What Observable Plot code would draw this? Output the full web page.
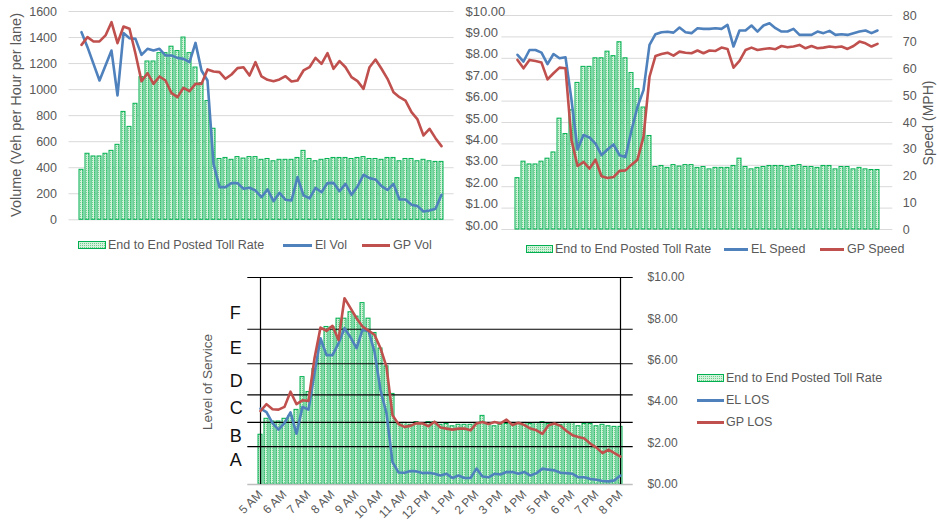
<!DOCTYPE html>
<html>
<head>
<meta charset="utf-8">
<script src="https://cdn.jsdelivr.net/npm/d3@7"></script>
<script src="https://cdn.jsdelivr.net/npm/@observablehq/plot@0.6"></script>
<style>
  body { margin: 0; background: #fff; }
  #root { position: relative; width: 937px; height: 527px; overflow: hidden;
          font-family: "Liberation Sans", Arial, sans-serif; color: #595959; }
  #root > svg.layer { position: absolute; left: 0; top: 0; }
  .lbl { position: absolute; white-space: nowrap; font-size: 12.5px; color: #595959; line-height: 1; transform: translateY(-50%); }
  .rot { position: absolute; white-space: nowrap; color: #595959; line-height: 1; transform: translate(-50%, -50%) rotate(-90deg); }
  .sw { position: absolute; }
</style>
</head>
<body>
<svg width="0" height="0" style="position:absolute">
  <defs>
    <pattern id="tollPat" width="2" height="2" patternUnits="userSpaceOnUse">
      <rect width="2" height="2" fill="#d4f1dc"/>
      <rect width="1" height="1" fill="#6fcf8c"/>
    </pattern>
  </defs>
</svg>
<div id="root"></div>
<script>
// ---------- data ----------
const hourLabels = ["5 AM","6 AM","7 AM","8 AM","9 AM","10 AM","11 AM","12 PM","1 PM","2 PM","3 PM","4 PM","5 PM","6 PM","7 PM","8 PM"];
// 15-minute intervals from 5:00 to 20:00
const times = d3.range(61).map(i => { const m = 300 + 15 * i; return `${Math.floor(m / 60)}:${String(m % 60).padStart(2, "0")}`; });

const toll = [2.40, 3.17, 3.04, 3.04, 3.17, 3.31, 3.60, 5.18, 4.46, 5.57, 6.85, 7.60, 7.60, 8.00, 8.00, 8.31, 8.10, 8.75, 8.00, 7.31, 6.56, 5.70, 4.37,
  2.92, 2.97, 2.88, 3.01, 2.94, 3.01, 3.01, 2.88, 2.92, 2.81, 2.88, 2.88, 2.88, 2.97, 3.31, 2.92, 2.81, 2.88, 2.92, 2.97,
  2.97, 2.97, 2.92, 2.97, 3.01, 2.92, 2.92, 2.88, 2.97, 2.97, 2.81, 2.92, 2.92, 2.81, 2.88, 2.81, 2.78, 2.78];

const elVol = [1441, 1326, 1198, 1070, 1185, 1300, 955, 1434, 1395, 1390, 1267, 1313, 1300, 1313, 1262, 1262, 1244, 1236, 1211, 1359,
  1147, 1070, 430, 251, 251, 282, 282, 238, 246, 225, 174, 233, 143, 207, 154, 148, 328, 187, 164, 246,
  212, 282, 284, 220, 276, 192, 256, 346, 320, 310, 259, 230, 276, 156, 156, 115, 105, 64, 72, 84, 192];
const gpVol = [1344, 1403, 1370, 1370, 1416, 1518, 1357, 1485, 1467, 1275, 1065, 1126, 1044, 1101, 1070, 973, 942, 1014, 988, 1044,
  1044, 1155, 1139, 1134, 1083, 1116, 1165, 1172, 1108, 1211, 1101, 1075, 1065, 1078, 1103, 1062, 1070, 1147, 1172, 1244,
  1198, 1280, 1160, 1219, 1172, 1096, 1065, 1006, 1172, 1231, 1160, 1083, 980, 942, 916, 827, 771, 648, 699, 627, 566];

const elSpeed = [65.3, 62.8, 67.1, 67.1, 66.1, 61.8, 65.6, 64.0, 64.4, 48.4, 29.9, 35.3, 34.4, 32.1, 27.8, 29.9, 31.8, 27.8, 27.1, 37.1,
  45.9, 52.1, 69.0, 73.0, 73.75, 73.9, 73.6, 75.5, 73.75, 73.4, 75.25, 75.0, 75.0, 75.25, 75.0, 76.5, 68.4, 74.4, 74.4, 76.25,
  74.0, 76.25, 77.1, 75.25, 74.0, 74.0, 75.0, 72.75, 72.75, 72.75, 74.0, 73.4, 74.25, 72.75, 73.0, 72.75, 73.4, 74.0, 74.4, 73.4, 74.4];
const gpSpeed = [63.4, 60.25, 63.4, 63.0, 62.4, 56.1, 58.4, 60.5, 60.25, 33.4, 23.75, 25.25, 22.75, 26.1, 19.9, 19.25, 19.6, 21.9, 22.1, 24.25,
  26.1, 34.6, 57.1, 64.9, 65.6, 66.1, 65.0, 66.5, 66.1, 65.9, 66.9, 65.9, 66.9, 66.75, 68.0, 67.5, 60.5, 63.0, 67.1, 68.0,
  67.1, 67.5, 67.75, 67.4, 68.6, 68.1, 68.4, 69.0, 67.75, 68.6, 67.75, 68.0, 68.4, 68.1, 68.4, 67.5, 68.6, 70.25, 69.6, 68.4, 69.4];

const elLos = [22, 21, 17.8, 15.9, 17.8, 20.9, 14.7, 22.5, 21.7, 32.2, 42.4, 37.5, 37.5, 40.9, 45.3, 42.7, 39.5, 44.8, 44.5, 38.5,
  27.4, 20.6, 6.5, 3.5, 3.4, 3.9, 3.8, 3.3, 3.4, 3.1, 2.6, 3.1, 1.9, 2.6, 1.9, 1.9, 4.6, 2.3, 2.1, 3.1,
  2.9, 3.6, 3.6, 3.1, 3.6, 2.6, 3.3, 4.6, 4.3, 4.1, 3.4, 3.3, 3.1, 2.1, 2.1, 1.6, 1.4, 1.0, 0.9, 1.2, 2.6];
const gpLos = [21.3, 23.3, 21.8, 21.7, 22.5, 26.9, 23.3, 24.4, 24.2, 36.6, 45.5, 44.5, 46.0, 41.9, 54.0, 51.1, 48.2, 45.8, 44.6, 43.4,
  39.5, 34.1, 20.1, 17.5, 16.7, 17.0, 17.8, 17.7, 16.9, 18.2, 16.5, 16.2, 15.9, 16.2, 16.2, 15.7, 17.7, 18.1, 17.5, 18.1,
  17.7, 18.8, 17.2, 17.9, 17.2, 16.2, 15.7, 14.7, 17.2, 17.7, 17.0, 15.5, 14.3, 13.8, 13.3, 11.8, 10.7, 9.1, 10.1, 9.1, 8.1];

// LOS band limits (density) and band letters
const losBounds = [11, 18, 26, 35, 45, 60];
const losLetters = ["A", "B", "C", "D", "E", "F"];
const losLetterPos = [7, 14, 22, 30, 39.5, 49.5];

const volTicks = [0, 200, 400, 600, 800, 1000, 1200, 1400, 1600];
const dollarTicksTop = [0, 1, 2, 3, 4, 5, 6, 7, 8, 9, 10];
const speedTicks = [0, 10, 20, 30, 40, 50, 60, 70, 80];
const dollarTicksBottom = [0, 2, 4, 6, 8, 10];
const hourTicks = times.filter((t, i) => i % 4 === 0);

// ---------- helpers ----------
const rows = times.map((t, i) => ({t, toll: toll[i], elVol: elVol[i], gpVol: gpVol[i],
  elSpeed: elSpeed[i], gpSpeed: gpSpeed[i], elLos: elLos[i], gpLos: gpLos[i]}));
const letters = losLetters.map((letter, i) => ({letter, pos: losLetterPos[i]}));

const root = document.getElementById("root");
const W = 937, H = 527;
const FONT = '"Liberation Sans", Arial, sans-serif';
const BLUE = "#4f81bd", RED = "#c0504d", GREEN = "#00b050";
function layer(opts) {
  const svg = Plot.plot({width: W, height: H,
    style: {background: "transparent", fontFamily: FONT, fontSize: "12px", color: "#595959", overflow: "visible"},
    ...opts});
  svg.classList.add("layer");
  root.append(svg);
}
const money = d => "$" + d.toFixed(2);
const bars = () => Plot.barY(rows, {x: "t", y: "toll", fill: "url(#tollPat)", stroke: GREEN, strokeWidth: 1});
const xBand = {type: "band", domain: times, padding: 0.35, axis: null, label: null};

// ---------- top-left: volume ----------
const TL = {marginLeft: 68.5, marginRight: W - 453.6, marginTop: 11, marginBottom: H - 219.3};
layer({...TL, x: xBand, y: {domain: [0, 1600], axis: null, label: null},
  marks: [
    Plot.gridY(volTicks, {stroke: "#d9d9d9", strokeOpacity: 1}),
    Plot.axisY(volTicks, {anchor: "left", label: null, tickSize: 0, tickPadding: 12, fontSize: 12.5, tickFormat: d => String(d)})
  ]});
layer({...TL, x: xBand, y: {domain: [0, 10], axis: null, label: null},
  marks: [bars()]});
layer({...TL, x: xBand, y: {domain: [0, 1600], axis: null, label: null},
  marks: [
    Plot.line(rows, {x: "t", y: "elVol", stroke: BLUE, strokeWidth: 2.6}),
    Plot.line(rows, {x: "t", y: "gpVol", stroke: RED, strokeWidth: 2.6})
  ]});

// ---------- top-right: speed ----------
const TR = {marginLeft: 501.4, marginRight: W - 892.3, marginTop: 15, marginBottom: H - 229};
layer({...TR, x: xBand, y: {domain: [0, 10], axis: null, label: null},
  marks: [
    Plot.gridY(dollarTicksTop, {stroke: "#d9d9d9", strokeOpacity: 1}),
    Plot.axisY(dollarTicksTop, {anchor: "left", label: null, tickSize: 0, tickPadding: 0, textAnchor: "start", dx: -36.4, dy: -4, fontSize: 13, tickFormat: money}),
    bars()
  ]});
layer({...TR, x: xBand, y: {domain: [0, 80], axis: null, label: null},
  marks: [
    Plot.axisY(speedTicks, {anchor: "right", label: null, tickSize: 0, tickPadding: 10, fontSize: 12.5, tickFormat: d => String(d)}),
    Plot.line(rows, {x: "t", y: "elSpeed", stroke: BLUE, strokeWidth: 2.6}),
    Plot.line(rows, {x: "t", y: "gpSpeed", stroke: RED, strokeWidth: 2.6})
  ]});

// ---------- bottom: LOS ----------
layer({marginLeft: 243, marginRight: W - 637.1, marginTop: 276.7, marginBottom: H - 484,
  x: xBand, y: {domain: [0, 10], axis: null, label: null},
  marks: [
    bars(),
    Plot.axisY(dollarTicksBottom, {anchor: "right", label: null, tickSize: 0, tickPadding: 10, fontSize: 12, tickFormat: money}),
    Plot.axisX(hourTicks, {anchor: "bottom", label: null, tickSize: 0, tickRotate: -45, tickPadding: 8, fontSize: 12,
      tickFormat: t => hourLabels[times.indexOf(t) / 4]})
  ]});
layer({marginLeft: 247.3, marginRight: W - 632.7, marginTop: 277, marginBottom: H - 484,
  x: {type: "point", domain: times, padding: 0, axis: null, label: null}, y: {domain: [0, 60], axis: null, label: null},
  marks: [
    Plot.ruleY([0], {stroke: "#bfbfbf", strokeWidth: 1.5}),
    Plot.ruleY(losBounds, {stroke: "#000", strokeWidth: 1.2}),
    Plot.ruleX([times[0], times[times.length - 1]], {stroke: "#000", strokeWidth: 1.2}),
    Plot.text(letters, {y: "pos", text: "letter", frameAnchor: "left", dx: -18, fontSize: 18, fill: "#111"}),
    Plot.line(rows, {x: "t", y: "elLos", stroke: BLUE, strokeWidth: 2.6}),
    Plot.line(rows, {x: "t", y: "gpLos", stroke: RED, strokeWidth: 2.6})
  ]});

// ---------- titles & legends (HTML) ----------
function rotLabel(text, x, y, size) {
  const d = document.createElement("div");
  d.className = "rot"; d.textContent = text;
  d.style.left = x + "px"; d.style.top = y + "px"; d.style.fontSize = size + "px";
  root.append(d);
}
rotLabel("Volume (Veh per Hour per lane)", 16, 115, 14.5);
rotLabel("Speed (MPH)", 928, 123, 14);
rotLabel("Level of Service", 208, 382, 13.5);

function text(str, x, y) {
  const d = document.createElement("div");
  d.className = "lbl"; d.textContent = str;
  d.style.left = x + "px"; d.style.top = y + "px";
  root.append(d);
}
function barSwatch(x, y, w) {
  const ns = "http://www.w3.org/2000/svg";
  const s = document.createElementNS(ns, "svg");
  s.setAttribute("class", "sw"); s.setAttribute("width", w); s.setAttribute("height", 8);
  s.style.left = x + "px"; s.style.top = (y - 4) + "px";
  const r = document.createElementNS(ns, "rect");
  r.setAttribute("x", 0.5); r.setAttribute("y", 0.5); r.setAttribute("width", w - 1); r.setAttribute("height", 7);
  r.setAttribute("fill", "url(#tollPat)"); r.setAttribute("stroke", GREEN);
  s.append(r); root.append(s);
}
function lineSwatch(x, y, w, color) {
  const d = document.createElement("div");
  d.className = "sw";
  Object.assign(d.style, {left: x + "px", top: (y - 1.5) + "px", width: w + "px", height: "3px", background: color});
  root.append(d);
}
const tollLabel = "End to End Posted Toll Rate";
// top-left legend
barSwatch(78, 245, 28); text(tollLabel, 108, 245);
lineSwatch(283, 245, 29, BLUE); text("El Vol", 315, 245);
lineSwatch(362, 245, 28, RED); text("GP Vol", 393, 245);
// top-right legend
barSwatch(526, 249, 27); text(tollLabel, 555, 249);
lineSwatch(724, 249, 24, BLUE); text("EL Speed", 751, 249);
lineSwatch(820, 249, 24, RED); text("GP Speed", 847, 249);
// bottom legend
barSwatch(697, 378, 27); text(tollLabel, 726, 378);
lineSwatch(697, 400, 27, BLUE); text("EL LOS", 726, 400);
lineSwatch(697, 422, 27, RED); text("GP LOS", 726, 422);
</script>
</body>
</html>
